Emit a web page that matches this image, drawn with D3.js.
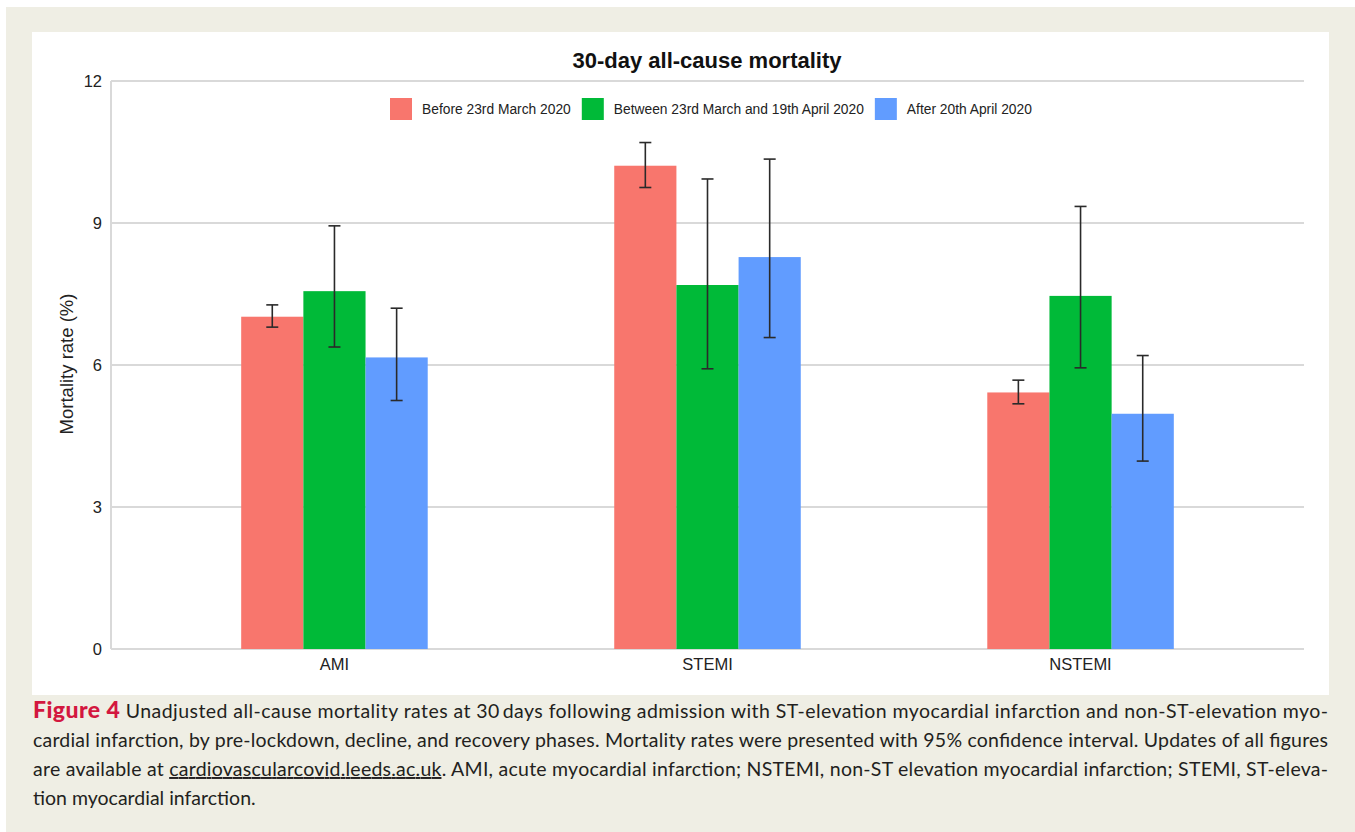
<!DOCTYPE html>
<html>
<head>
<meta charset="utf-8">
<script src="https://cdn.jsdelivr.net/npm/d3@7"></script>
<style>
  html, body { margin: 0; padding: 0; background: #ffffff; }
  svg { display: block; }
</style>
</head>
<body>
<svg id="fig" width="1355" height="832"></svg>
<script>
// Infarction groups on the x axis
const categories = ["AMI", "STEMI", "NSTEMI"];
// Lockdown phases (one bar per phase inside each group)
const phases = ["Before 23rd March 2020", "Between 23rd March and 19th April 2020", "After 20th April 2020"];
// 30-day mortality (%) by phase, in category order
const before  = [7.02, 10.21, 5.42];
const between = [7.56, 7.69, 7.46];
const after   = [6.16, 8.28, 4.97];
// 95% confidence interval bounds, in category order
const beforeLow   = [6.80, 9.75, 5.18];
const beforeHigh  = [7.27, 10.70, 5.68];
const betweenLow  = [6.38, 5.92, 5.94];
const betweenHigh = [8.94, 9.93, 9.35];
const afterLow    = [5.25, 6.58, 3.97];
const afterHigh   = [7.20, 10.35, 6.20];
// Y axis ticks
const yTicks = [0, 3, 6, 9, 12];
const phaseColors = ["#F8766D", "#00BA38", "#619CFF"];

const series = [
  { name: phases[0], values: before,  lo: beforeLow,  hi: beforeHigh },
  { name: phases[1], values: between, lo: betweenLow, hi: betweenHigh },
  { name: phases[2], values: after,   lo: afterLow,   hi: afterHigh }
];

const svg = d3.select("#fig");
const chartFont = "'Liberation Sans', Arial, sans-serif";
const captionFont = "Lato, 'Open Sans', sans-serif";

// Page backdrop and white chart panel
svg.append("rect").attr("x", 6).attr("y", 7).attr("width", 1349).attr("height", 825).attr("fill", "#EFEEE4");
svg.append("rect").attr("x", 32).attr("y", 32).attr("width", 1297).attr("height", 663).attr("fill", "#ffffff");

const plot = { left: 111, right: 1304, top: 81, bottom: 649 };

const x = d3.scaleBand().domain(categories).range([plot.left, plot.right])
  .paddingInner(0.5).paddingOuter(0.349);
const xs = d3.scaleBand().domain(d3.range(series.length)).range([0, x.bandwidth()]);
const y = d3.scaleLinear().domain([0, 12]).range([plot.bottom, plot.top]);

// Horizontal gridlines
svg.append("g").selectAll("line").data(yTicks).join("line")
  .attr("x1", plot.left).attr("x2", plot.right)
  .attr("y1", d => y(d)).attr("y2", d => y(d))
  .attr("stroke", "#d9d9d9").attr("stroke-width", 2);

// Left axis line
svg.append("line").attr("x1", plot.left).attr("x2", plot.left)
  .attr("y1", plot.top).attr("y2", plot.bottom)
  .attr("stroke", "#d9d9d9").attr("stroke-width", 2);

// Y axis tick labels
const yAxis = d3.axisLeft(y).tickValues(yTicks).tickSize(0).tickPadding(9);
const gy = svg.append("g").attr("transform", `translate(${plot.left},0)`).call(yAxis);
gy.select(".domain").remove();
gy.selectAll("text").attr("font-family", chartFont).attr("font-size", 16.5).attr("fill", "#222");

// X axis category labels
const xAxis = d3.axisBottom(x).tickSize(0).tickPadding(9);
const gx = svg.append("g").attr("transform", `translate(0,${plot.bottom})`).call(xAxis);
gx.select(".domain").remove();
gx.selectAll("text").attr("font-family", chartFont).attr("font-size", 16.5).attr("fill", "#222");

// Bars
const groups = svg.append("g").selectAll("g").data(series).join("g")
  .attr("fill", (d, i) => phaseColors[i]);
groups.each(function (s, si) {
  d3.select(this).selectAll("rect").data(categories).join("rect")
    .attr("x", (c) => x(c) + xs(si))
    .attr("width", xs.bandwidth())
    .attr("y", (c, ci) => y(s.values[ci]))
    .attr("height", (c, ci) => y(0) - y(s.values[ci]));
});

// Confidence interval whiskers
const capHalf = 6;
const eb = svg.append("g").attr("stroke", "#2a2a2a").attr("stroke-width", 1.6).attr("fill", "none");
series.forEach((s, si) => {
  categories.forEach((c, ci) => {
    const cx = x(c) + xs(si) + xs.bandwidth() / 2;
    eb.append("line").attr("x1", cx).attr("x2", cx).attr("y1", y(s.hi[ci])).attr("y2", y(s.lo[ci]));
    eb.append("line").attr("x1", cx - capHalf).attr("x2", cx + capHalf).attr("y1", y(s.hi[ci])).attr("y2", y(s.hi[ci]));
    eb.append("line").attr("x1", cx - capHalf).attr("x2", cx + capHalf).attr("y1", y(s.lo[ci])).attr("y2", y(s.lo[ci]));
  });
});

// Title
svg.append("text").attr("x", 707).attr("y", 68).attr("text-anchor", "middle")
  .attr("font-family", chartFont).attr("font-weight", "bold").attr("font-size", 22)
  .attr("fill", "#111").text("30-day all-cause mortality");

// Y axis title
svg.append("text").attr("transform", "translate(73,364) rotate(-90)")
  .attr("text-anchor", "middle").attr("font-family", chartFont).attr("font-size", 18.5)
  .attr("fill", "#222").text("Mortality rate (%)");

// Legend
const legend = svg.append("g");
let lx = 390;
series.forEach((s, i) => {
  legend.append("rect").attr("x", lx).attr("y", 98).attr("width", 22).attr("height", 22)
    .attr("fill", phaseColors[i]);
  const t = legend.append("text").attr("x", lx + 32).attr("y", 114)
    .attr("font-family", chartFont).attr("font-size", 13.8).attr("fill", "#222").text(s.name);
  lx = lx + 32 + t.node().getComputedTextLength() + 11;
});

// Caption
const cap = svg.append("g").attr("font-family", captionFont).attr("font-size", 19.5).attr("fill", "#231f20");
const l1 = cap.append("text").attr("x", 33).attr("y", 718)
  .attr("textLength", 1295).attr("lengthAdjust", "spacing");
l1.append("tspan").attr("fill", "#D3173F").attr("font-weight", "900").attr("font-size", 23).text("Figure 4");
l1.append("tspan").text(" Unadjusted all-cause mortality rates at 30\u2009days following admission with ST-elevation myocardial infarction and non-ST-elevation myo-");
cap.append("text").attr("x", 33).attr("y", 747).attr("textLength", 1295).attr("lengthAdjust", "spacing")
  .text("cardial infarction, by pre-lockdown, decline, and recovery phases. Mortality rates were presented with 95% confidence interval. Updates of all figures");
const l3 = cap.append("text").attr("x", 33).attr("y", 776).attr("textLength", 1295).attr("lengthAdjust", "spacing");
l3.append("tspan").text("are available at ");
l3.append("tspan").attr("text-decoration", "underline").text("cardiovascularcovid.leeds.ac.uk");
l3.append("tspan").text(". AMI, acute myocardial infarction; NSTEMI, non-ST elevation myocardial infarction; STEMI, ST-eleva-");
cap.append("text").attr("x", 33).attr("y", 805).text("tion myocardial infarction.");
</script>
</body>
</html>
